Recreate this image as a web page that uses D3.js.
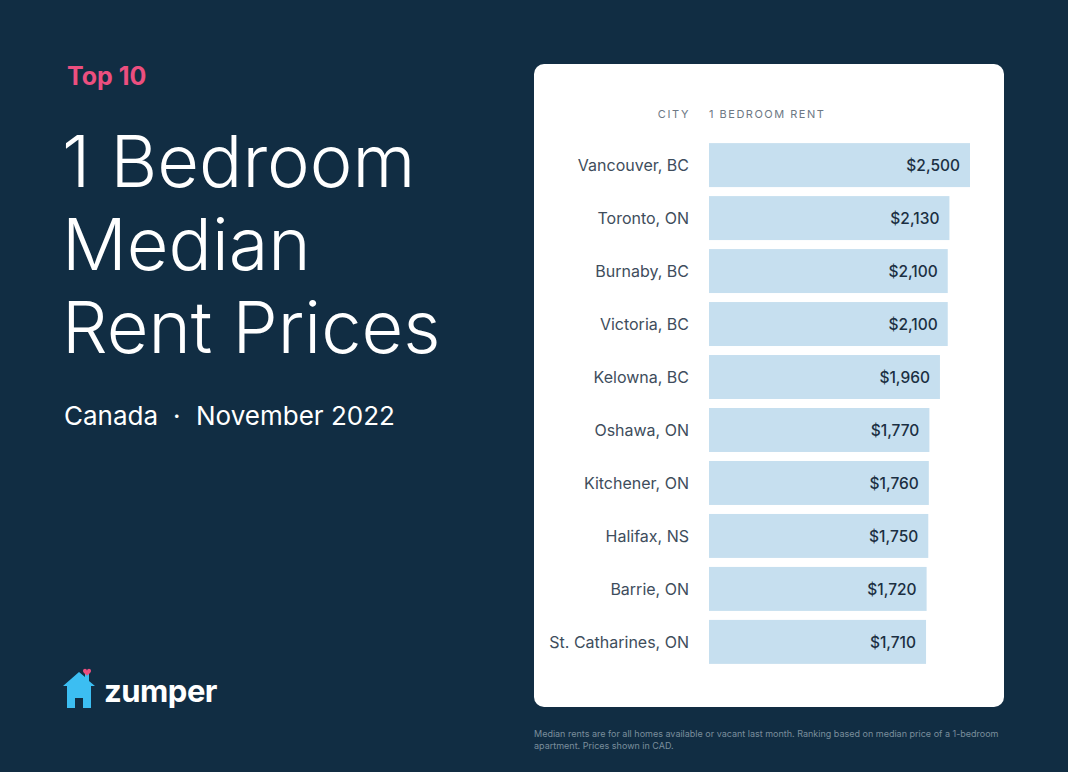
<!DOCTYPE html>
<html>
<head>
<meta charset="utf-8">
<script src="https://cdn.jsdelivr.net/npm/d3@7"></script>
<style>
  body { margin: 0; background: #112d43; }
  svg { display: block; font-family: Inter, "Open Sans", sans-serif; }
</style>
</head>
<body>
<div id="chart"></div>
<script>
const WIDTH = 1068;
const HEIGHT = 772;

const cities = ['Vancouver, BC', 'Toronto, ON', 'Burnaby, BC', 'Victoria, BC', 'Kelowna, BC',
  'Oshawa, ON', 'Kitchener, ON', 'Halifax, NS', 'Barrie, ON', 'St. Catharines, ON'];
const rents = [2500, 2130, 2100, 2100, 1960, 1770, 1760, 1750, 1720, 1710];
const headers = ['CITY', '1 BEDROOM RENT'];
const titleLines = ['1 Bedroom', 'Median', 'Rent Prices'];
const noteLines = [
  'Median rents are for all homes available or vacant last month. Ranking based on median price of a 1-bedroom',
  'apartment. Prices shown in CAD.'
];

const svg = d3.select('#chart')
  .append('svg')
  .attr('width', WIDTH)
  .attr('height', HEIGHT);

svg.append('rect')
  .attr('width', WIDTH)
  .attr('height', HEIGHT)
  .attr('fill', '#112d43');

// left side text
svg.append('text')
  .attr('x', 67).attr('y', 85)
  .attr('fill', '#ec4f7f')
  .attr('font-size', 25)
  .attr('font-weight', 700)
  .text('Top 10');

svg.selectAll('.title')
  .data(titleLines)
  .enter()
  .append('text')
  .attr('class', 'title')
  .attr('x', 62)
  .attr('y', (d, i) => 187 + i * 83)
  .attr('fill', '#fff')
  .attr('font-size', 72)
  .attr('font-weight', 300)
  .attr('letter-spacing', 0)
  .text(d => d);

const sub = svg.append('g')
  .attr('fill', '#fff')
  .attr('font-size', 26);
sub.append('text').attr('x', 64).attr('y', 425).text('Canada');
sub.append('text').attr('x', 173).attr('y', 425).text('\u00b7');
sub.append('text').attr('x', 196).attr('y', 425).text('November 2022');

// logo
const logo = svg.append('g').attr('transform', 'translate(63, 668)');
logo.append('path')
  .attr('d', 'M0,18 L16,4 L22,9 L22,6 L26,6 L26,13 L32,18 L28,18 L28,40 L20,40 L20,30 L12,30 L12,40 L4,40 L4,18 Z')
  .attr('fill', '#3cbef2');
logo.append('path')
  .attr('d', 'M24,3 C24,0 20,0 20,3 C20,5 24,7 24,8 C24,7 28,5 28,3 C28,0 24,0 24,3 Z')
  .attr('fill', '#ec4f7f');
svg.append('text')
  .attr('x', 104).attr('y', 702)
  .attr('fill', '#fff')
  .attr('font-size', 31)
  .attr('font-weight', 700)
  .attr('letter-spacing', -0.5)
  .text('zumper');

// card
svg.append('rect')
  .attr('x', 534).attr('y', 64)
  .attr('width', 470).attr('height', 643)
  .attr('rx', 10)
  .attr('fill', '#fff');

const barLeft = 709;

const xScale = d3.scaleLinear()
  .domain([1700, 2500])
  .range([216.5, 261]);

const yScale = d3.scaleBand()
  .domain(cities)
  .range([141, 666])
  .paddingInner(0.17)
  .paddingOuter(0.04);

svg.append('text')
  .attr('x', 690).attr('y', 118)
  .attr('text-anchor', 'end')
  .attr('fill', '#6d7884')
  .attr('font-size', 11)
  .attr('letter-spacing', 1.6)
  .text(headers[0]);

svg.append('text')
  .attr('x', barLeft).attr('y', 118)
  .attr('fill', '#6d7884')
  .attr('font-size', 11)
  .attr('letter-spacing', 1.5)
  .text(headers[1]);

const rows = svg.selectAll('.row')
  .data(cities.map((c, i) => ({ city: c, rent: rents[i] })))
  .enter()
  .append('g')
  .attr('class', 'row')
  .attr('transform', d => `translate(0, ${yScale(d.city)})`);

rows.append('rect')
  .attr('x', barLeft)
  .attr('width', d => xScale(d.rent))
  .attr('height', yScale.bandwidth())
  .attr('fill', '#c6dfef');

rows.append('text')
  .attr('x', 689)
  .attr('y', yScale.bandwidth() / 2 + 6)
  .attr('text-anchor', 'end')
  .attr('fill', '#3e4d5c')
  .attr('font-size', 16)
  .text(d => d.city);

rows.append('text')
  .attr('x', d => barLeft + xScale(d.rent) - 10)
  .attr('y', yScale.bandwidth() / 2 + 6)
  .attr('text-anchor', 'end')
  .attr('fill', '#1b2f42')
  .attr('font-size', 15.5)
  .attr('font-weight', 500)
  .text(d => d3.format('$,')(d.rent));

// footnote
svg.selectAll('.note')
  .data(noteLines)
  .enter()
  .append('text')
  .attr('class', 'note')
  .attr('x', 534)
  .attr('y', (d, i) => 737 + i * 12)
  .attr('fill', '#7a8d9c')
  .attr('font-size', 9)
  .text(d => d);
</script>
</body>
</html>
